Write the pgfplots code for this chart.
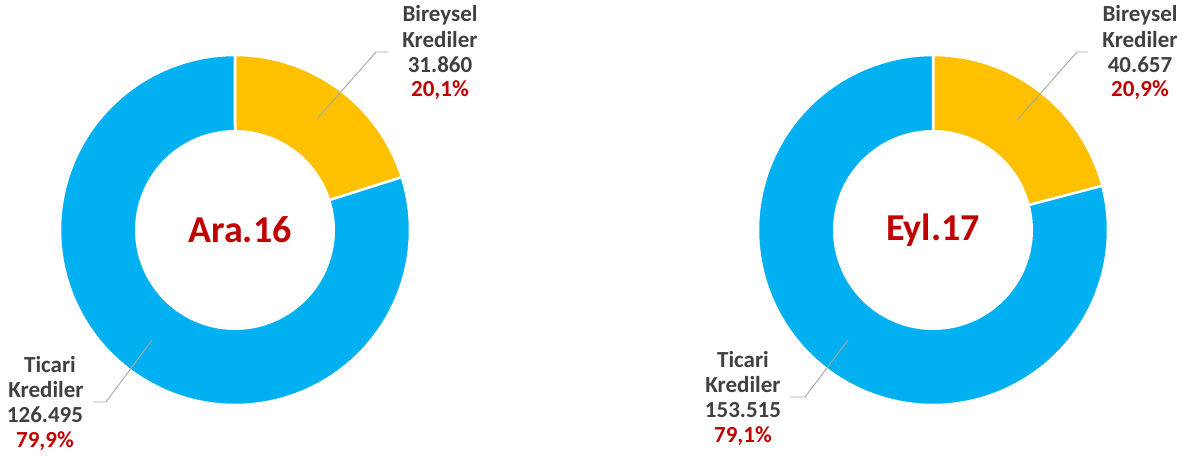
\documentclass[border=0pt]{standalone}
\usepackage{pgfplots}
\pgfplotsset{compat=1.18}
\usepackage{fontspec}
\setmainfont{Carlito}
\definecolor{cblue}{HTML}{00B0F0}
\definecolor{cyel}{HTML}{FFC000}
\definecolor{cred}{HTML}{C00000}
\definecolor{cgray}{HTML}{404040}
\definecolor{cline}{HTML}{A6A6A6}
% values
\def\LA{31.860}\def\LB{126.495}
\def\RA{40.657}\def\RB{153.515}
\begin{document}
\begin{tikzpicture}
\begin{axis}[width=1187pt,height=458pt,scale only axis,
  xmin=0,xmax=1187,ymin=0,ymax=458,y dir=reverse,
  hide axis,clip=false]
\path (axis cs:0,0) rectangle (axis cs:1187,458);
% left donut
\pgfmathsetmacro{\la}{-90+360*\LA/(\LA+\LB)}
\addplot[fill=cyel,draw=white,line width=2.5pt,domain=-90:\la,samples=80]
  ({235+175*cos(x)},{230+175*sin(x)}) -- (axis cs:235,230) -- cycle;
\addplot[fill=cblue,draw=white,line width=2.5pt,domain=\la:270,samples=200]
  ({235+175*cos(x)},{230+175*sin(x)}) -- (axis cs:235,230) -- cycle;
\addplot[fill=white,draw=none,domain=0:360,samples=150]
  ({235+100*cos(x)},{230+100*sin(x)}) -- cycle;
% right donut
\pgfmathsetmacro{\ra}{-90+360*\RA/(\RA+\RB)}
\addplot[fill=cyel,draw=white,line width=2.5pt,domain=-90:\ra,samples=80]
  ({933+175*cos(x)},{230+175*sin(x)}) -- (axis cs:933,230) -- cycle;
\addplot[fill=cblue,draw=white,line width=2.5pt,domain=\ra:270,samples=200]
  ({933+175*cos(x)},{230+175*sin(x)}) -- (axis cs:933,230) -- cycle;
\addplot[fill=white,draw=none,domain=0:360,samples=150]
  ({933+100*cos(x)},{230+100*sin(x)}) -- cycle;
% leader lines
\addplot[cline,line width=0.9pt] coordinates {(317,119) (376,52) (388,52)};
\addplot[cline,line width=0.9pt] coordinates {(152,340) (106,402) (93,402)};
\addplot[cline,line width=0.9pt] coordinates {(1017,120) (1077,52) (1088,52)};
\addplot[cline,line width=0.9pt] coordinates {(848,340) (805,397) (790,397)};
% center labels
\node[font=\fontsize{38}{44}\selectfont\bfseries,text=cred] at (axis cs:240,230) {Ara.16};
\node[font=\fontsize{38}{44}\selectfont\bfseries,text=cred] at (axis cs:933,230) {Eyl.17};
% data labels
\tikzset{lab/.style={font=\fontsize{23}{27}\selectfont\bfseries,text=cgray,inner sep=0pt},
         pct/.style={font=\fontsize{23}{27}\selectfont\bfseries,text=cred,inner sep=0pt}}
\node[lab] at (axis cs:440,15) {Bireysel};
\node[lab] at (axis cs:440,40) {Krediler};
\node[lab] at (axis cs:440,65) {31.860};
\node[pct] at (axis cs:440,90) {20,1\%};
\node[lab] at (axis cs:1140,15) {Bireysel};
\node[lab] at (axis cs:1140,40) {Krediler};
\node[lab] at (axis cs:1140,65) {40.657};
\node[pct] at (axis cs:1140,90) {20,9\%};
\node[lab] at (axis cs:50,365) {Ticari};
\node[lab] at (axis cs:46,390) {Krediler};
\node[lab] at (axis cs:45,415) {126.495};
\node[pct] at (axis cs:45,441) {79,9\%};
\node[lab] at (axis cs:743,360) {Ticari};
\node[lab] at (axis cs:743,385) {Krediler};
\node[lab] at (axis cs:743,410) {153.515};
\node[pct] at (axis cs:743,436) {79,1\%};
\end{axis}
\end{tikzpicture}
\end{document}
